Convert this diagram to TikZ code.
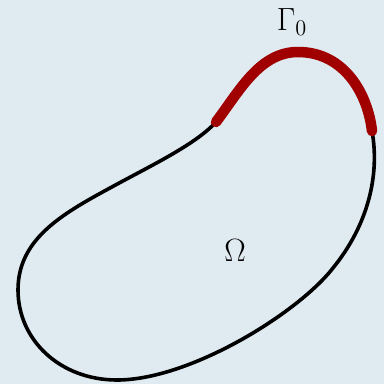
\documentclass[tikz,border=0pt]{standalone}
\definecolor{bgc}{RGB}{224,234,241}
\definecolor{redc}{RGB}{160,0,0}
\begin{document}
\begin{tikzpicture}[x=1pt,y=-1pt,
  boundary/.style={line width=3.6pt,black,line cap=round},
  gammapart/.style={line width=10.5pt,redc,line cap=round},
  lbl/.style={font=\huge,scale=1.55,inner sep=0pt}]
\fill[bgc] (0,0) rectangle (384,384);
\useasboundingbox (0,0) rectangle (384,384);
\coordinate (A) at (216,122);
\coordinate (T) at (298,52);
\coordinate (B) at (372,131);
\coordinate (P1) at (333,268);
\coordinate (P2) at (117,380);
\coordinate (P3) at (18,290);
\coordinate (P4) at (110,188);
\draw[boundary] (B) .. controls (380,175) and (368,225) .. (P1)
  .. controls (298,313) and (190,380) .. (P2)
  .. controls (60,380) and (18,340) .. (P3)
  .. controls (18,240) and (60,215) .. (P4)
  .. controls (150,166) and (195,145) .. (A);
\draw[gammapart] (A) .. controls (240,90) and (260,52) .. (T)
  .. controls (345,52) and (368,95) .. (B);
\node[lbl] (gamma) at (292,22) {$\Gamma_0$};
\node[lbl] (omega) at (235,251) {$\Omega$};
\end{tikzpicture}
\end{document}
